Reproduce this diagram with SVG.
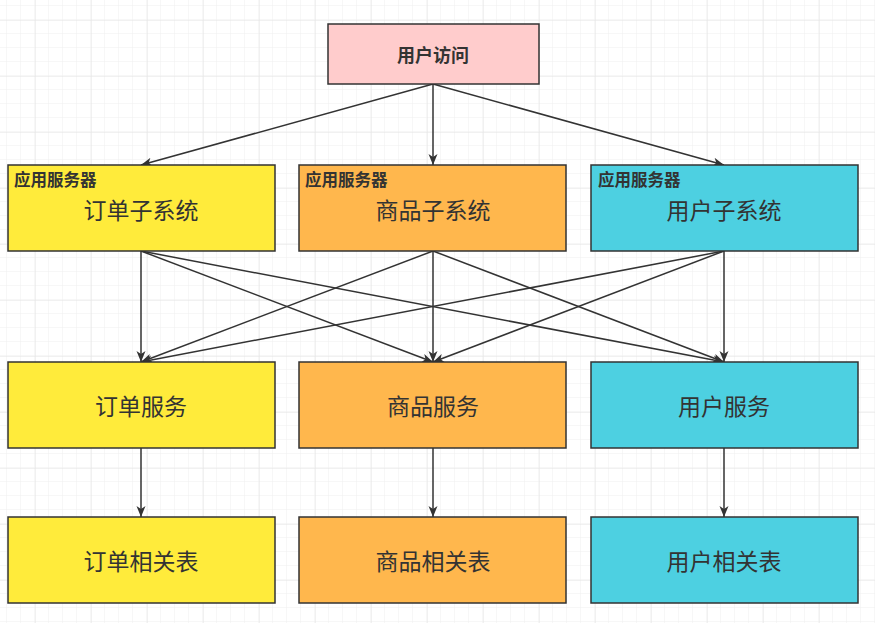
<svg xmlns="http://www.w3.org/2000/svg" width="875" height="623" viewBox="0 0 875 623">
<defs>
<pattern id="minor" x="7" y="6" width="14" height="14" patternUnits="userSpaceOnUse">
<path d="M14 0V14M0 14H14" fill="none" stroke="#efefef" stroke-width="1"/>
</pattern>
<pattern id="major" x="35" y="20" width="56" height="56" patternUnits="userSpaceOnUse">
<path d="M0 0V56M0 0H56" fill="none" stroke="#e4e4e4" stroke-width="1"/>
</pattern>
<marker id="arr" markerUnits="userSpaceOnUse" markerWidth="12" markerHeight="10" refX="11" refY="5" orient="auto">
<path d="M0,0.5 L11,5 L0,9.5 L3,5 z" fill="#333"/>
</marker>
<style>
.box{stroke:#333;stroke-width:1.5}
.y{fill:#FFEB3B}.o{fill:#FFB74D}.c{fill:#4DD0E1}.p{fill:#FFCCCC}
.t{font-family:"Noto Sans CJK SC","Noto Sans",sans-serif;fill:#333;text-anchor:middle;dominant-baseline:central}
.main{font-size:23px}
.lbl{font-family:"Noto Sans CJK SC","Noto Sans",sans-serif;fill:#333;font-size:16.5px;font-weight:bold}
.e{stroke:#333;stroke-width:1.5;fill:none;marker-end:url(#arr)}
</style>
</defs>
<rect width="875" height="623" fill="#ffffff"/>
<rect width="875" height="623" fill="url(#minor)"/>
<rect width="875" height="623" fill="url(#major)"/>

<g id="connectors">
<path class="e" d="M433 84L141 165"/>
<path class="e" d="M433 84L433 165"/>
<path class="e" d="M433 84L724 165"/>
<path class="e" d="M141 251L141 362"/>
<path class="e" d="M141 251L433 362"/>
<path class="e" d="M141 251L724 362"/>
<path class="e" d="M433 251L141 362"/>
<path class="e" d="M433 251L433 362"/>
<path class="e" d="M433 251L724 362"/>
<path class="e" d="M724 251L141 362"/>
<path class="e" d="M724 251L433 362"/>
<path class="e" d="M724 251L724 362"/>
<path class="e" d="M141 448L141 517"/>
<path class="e" d="M433 448L433 517"/>
<path class="e" d="M724 448L724 517"/>
</g>

<g id="user-access">
<rect class="box p" x="328" y="24" width="211" height="60"/>
<text class="t" x="433" y="54" style="font-size:18px;font-weight:bold">用户访问</text>
</g>

<g id="order-subsystem">
<rect class="box y" x="8" y="165" width="267" height="86"/>
<text class="lbl" x="14" y="186">应用服务器</text>
<text class="t main" x="141" y="209">订单子系统</text>
</g>
<g id="product-subsystem">
<rect class="box o" x="299" y="165" width="267" height="86"/>
<text class="lbl" x="305" y="186">应用服务器</text>
<text class="t main" x="433" y="209">商品子系统</text>
</g>
<g id="user-subsystem">
<rect class="box c" x="591" y="165" width="267" height="86"/>
<text class="lbl" x="598" y="186">应用服务器</text>
<text class="t main" x="724" y="209">用户子系统</text>
</g>

<g id="order-service">
<rect class="box y" x="8" y="362" width="267" height="86"/>
<text class="t main" x="141" y="405">订单服务</text>
</g>
<g id="product-service">
<rect class="box o" x="299" y="362" width="267" height="86"/>
<text class="t main" x="433" y="405">商品服务</text>
</g>
<g id="user-service">
<rect class="box c" x="591" y="362" width="267" height="86"/>
<text class="t main" x="724" y="405">用户服务</text>
</g>

<g id="order-tables">
<rect class="box y" x="8" y="517" width="267" height="86"/>
<text class="t main" x="141" y="560">订单相关表</text>
</g>
<g id="product-tables">
<rect class="box o" x="299" y="517" width="267" height="86"/>
<text class="t main" x="433" y="560">商品相关表</text>
</g>
<g id="user-tables">
<rect class="box c" x="591" y="517" width="267" height="86"/>
<text class="t main" x="724" y="560">用户相关表</text>
</g>
</svg>
